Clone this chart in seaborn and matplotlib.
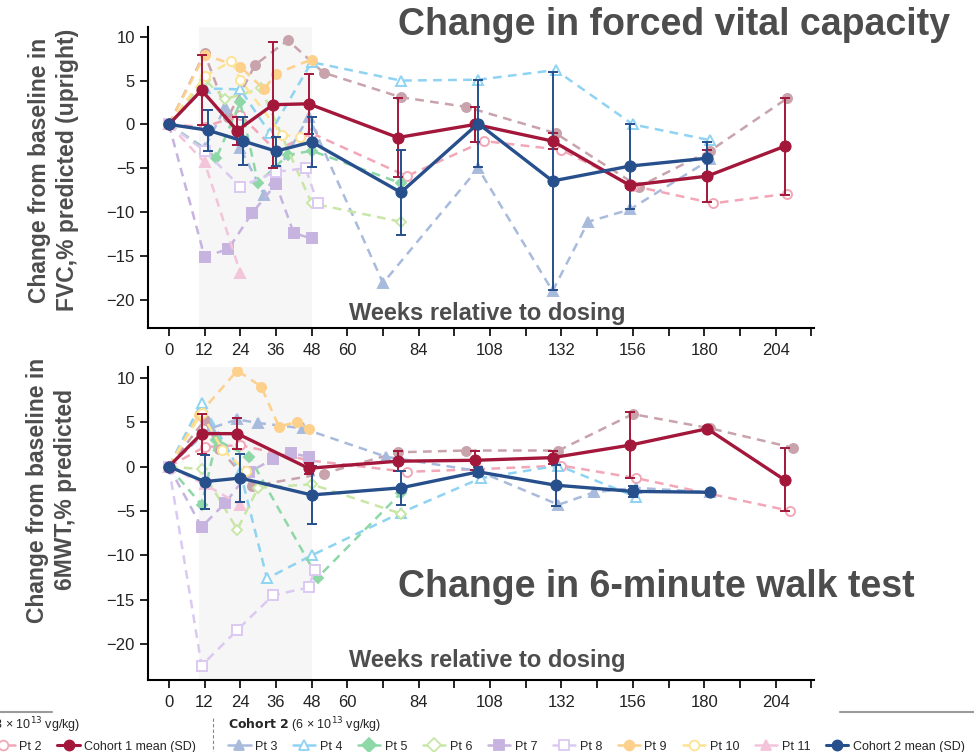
import matplotlib
matplotlib.use("Agg")
import matplotlib.pyplot as plt
from matplotlib.lines import Line2D
import seaborn as sns
import pandas as pd

# ---------------- data ----------------
WEEK_TICKS = list(range(0, 217, 12))
WEEK_LABELS = [0, 12, 24, 36, 48, 60, 84, 108, 132, 156, 180, 204]
Y_TICKS = [10, 5, 0, -5, -10, -15, -20]

# FVC, % predicted (upright) - individual patients
fvc_pt1_wk = [0, 12, 20, 29, 40, 52, 78, 100, 130, 158, 182, 208]
fvc_pt1 = [0, 8.1, 0.9, 6.8, 9.6, 5.9, 3.1, 2.0, -1.0, -7.1, -3.0, 3.0]
fvc_pt2_wk = [0, 12, 24, 36, 48, 80, 106, 132, 156, 183, 208]
fvc_pt2 = [0, -0.3, 1.1, -3.0, -1.0, -5.9, -1.9, -2.9, -7.0, -9.0, -7.9]
fvc_pt3_wk = [0, 12, 19, 24, 32, 47, 72, 104, 129, 141, 155, 182]
fvc_pt3 = [0, -2.7, 2.0, -2.7, -8.0, 0.9, -18.1, -5.0, -19.0, -11.1, -9.7, -4.0]
fvc_pt4_wk = [0, 12, 24, 34, 48, 78, 104, 130, 156, 182]
fvc_pt4 = [0, 4.1, 4.0, -1.0, 7.1, 5.0, 5.1, 6.2, 0.0, -1.8]
fvc_pt5_wk = [0, 16, 24, 30, 40, 48, 78]
fvc_pt5 = [0, -3.8, 2.5, -6.7, -3.5, -3.0, -6.7]
fvc_pt6_wk = [0, 12, 19, 31, 48, 78]
fvc_pt6 = [0, 5.1, 2.9, 4.1, -9.0, -11.1]
fvc_pt7_wk = [0, 12, 20, 28, 36, 42, 48]
fvc_pt7 = [0, -15.1, -14.2, -10.1, -6.8, -12.4, -13.0]
fvc_pt8_wk = [0, 12, 24, 36, 46, 50]
fvc_pt8 = [0, -3.0, -7.1, -5.4, -5.0, -9.0]
fvc_pt9_wk = [0, 12, 24, 32, 36, 48]
fvc_pt9 = [0, 7.9, 6.6, 4.0, 5.8, 7.4]
fvc_pt10_wk = [0, 12, 21, 24, 38, 44]
fvc_pt10 = [0, 5.5, 7.2, 5.1, -1.2, -1.4]
fvc_pt11_wk = [0, 12, 24]
fvc_pt11 = [0, -4.3, -16.9]

# FVC cohort means (SD)
fvc_c1_wk = [0, 11, 23, 35, 47, 77, 103, 129, 155, 181, 207]
fvc_c1 = [0, 3.9, -0.7, 2.25, 2.35, -1.5, 0.0, -1.9, -6.95, -5.9, -2.5]
fvc_c1_sd = [None, 4.0, 1.6, 7.2, 3.4, 4.5, 1.95, 0.9, 0.3, 3.0, 5.5]
fvc_c2_wk = [0, 13, 25, 36, 48, 78, 104, 129, 155, 181]
fvc_c2 = [0, -0.65, -1.9, -3.05, -2.0, -7.75, 0.1, -6.45, -4.75, -3.85]
fvc_c2_sd = [None, 2.35, 2.7, 1.65, 2.9, 4.85, 5.0, 12.45, 4.85, 1.85]

# 6MWT, % predicted - individual patients
mwt_pt1_wk = [0, 12, 17, 28, 52, 77, 100, 131, 156, 182, 210]
mwt_pt1 = [0, 5.2, 2.0, -2.2, -0.8, 1.6, 1.8, 1.8, 5.9, 4.3, 2.1]
mwt_pt2_wk = [0, 12, 24, 47, 80, 104, 132, 157, 209]
mwt_pt2 = [0, 2.2, 2.4, 0.7, -0.6, -0.3, 0.1, -1.3, -5.0]
mwt_pt3_wk = [0, 14, 23, 30, 45, 73, 104, 131, 143, 157, 182]
mwt_pt3 = [0, 4.3, 5.3, 4.9, 4.3, 1.1, -0.5, -4.3, -2.9, -2.4, -2.9]
mwt_pt4_wk = [0, 11, 24, 33, 48, 78, 105, 131, 157]
mwt_pt4 = [0, 7.2, -0.6, -12.6, -10.0, -5.2, -1.3, 0.1, -3.4]
mwt_pt5_wk = [0, 11, 16, 27, 50, 78]
mwt_pt5 = [0, -4.3, 3.0, 1.1, -12.5, -3.0]
mwt_pt6_wk = [0, 11, 23, 30, 48, 78]
mwt_pt6 = [0, -0.3, -7.1, -2.4, -2.0, -5.3]
mwt_pt7_wk = [0, 11, 19, 27, 35, 41, 47]
mwt_pt7 = [0, -6.8, -4.1, -0.6, 0.8, 1.5, 1.1]
mwt_pt8_wk = [0, 11, 23, 35, 47, 49]
mwt_pt8 = [0, -22.4, -18.4, -14.5, -13.6, -11.7]
mwt_pt9_wk = [0, 10, 23, 31, 37, 43, 47]
mwt_pt9 = [0, 5.8, 10.8, 9.0, 4.5, 5.0, 4.2]
mwt_pt10_wk = [0, 11, 18, 26]
mwt_pt10 = [0, 6.0, 1.9, -0.5]
mwt_pt11_wk = [0, 12, 24]
mwt_pt11 = [0, -2.0, -4.3]

# 6MWT cohort means (SD)
mwt_c1_wk = [0, 11, 23, 47, 77, 103, 129, 155, 181, 207]
mwt_c1 = [0, 3.7, 3.7, -0.2, 0.6, 0.7, 1.0, 2.4, 4.25, -1.5]
mwt_c1_sd = [None, 2.25, 1.75, 0.65, 1.1, 1.1, 0.75, 3.7, None, 3.55]
mwt_c2_wk = [0, 12, 24, 48, 78, 104, 130, 156, 182]
mwt_c2 = [0, -1.7, -1.3, -3.2, -2.4, -0.6, -2.1, -2.8, -2.9]
mwt_c2_sd = [None, 3.05, 2.7, 3.3, 1.9, 0.5, 2.3, 0.6, None]

# ---------------- styles ----------------
PATIENTS = ["Pt 1", "Pt 2", "Pt 3", "Pt 4", "Pt 5", "Pt 6",
            "Pt 7", "Pt 8", "Pt 9", "Pt 10", "Pt 11"]
PT_COLORS = ["#c9a3ac", "#f2a7b8", "#a9bbdd", "#8fd3f2", "#8ed8a7", "#c8e6a6",
             "#c7b3e0", "#dcc9f2", "#fdd08b", "#fde394", "#f3c4da"]
PT_MARKERS = ["o", "o", "^", "^", "D", "D", "s", "s", "o", "o", "^"]
PT_OPEN = [False, True, False, True, False, True, False, True, False, True, False]
C1_COLOR = "#a3173a"
C2_COLOR = "#264f8c"
TEXT_GRAY = "#4d4d4d"

sns.set_theme(style="white")
plt.rcParams["font.family"] = ["Liberation Sans Narrow", "Liberation Sans", "DejaVu Sans"]


def draw_patient(ax, wk, val, i):
    df = pd.DataFrame({"week": wk, "value": val})
    col = PT_COLORS[i]
    ms = 5.5 if PT_MARKERS[i] == "D" else 6.5
    sns.lineplot(data=df, x="week", y="value", ax=ax, sort=False, estimator=None,
                 color=col, linewidth=1.8, linestyle=(0, (3.5, 2.5)),
                 marker=PT_MARKERS[i], markersize=ms, markeredgecolor=col,
                 markerfacecolor="white" if PT_OPEN[i] else col,
                 markeredgewidth=1.4, zorder=2, legend=False)


def draw_mean(ax, wk, val, sd, color):
    df = pd.DataFrame({"week": wk, "value": val,
                       "sd": [float("nan") if s is None else s for s in sd]})
    ax.errorbar(df["week"], df["value"], yerr=df["sd"], fmt="none", ecolor=color,
                elinewidth=1.4, capsize=3.5, capthick=1.4, zorder=4)
    sns.lineplot(data=df, x="week", y="value", ax=ax, sort=False, estimator=None,
                 color=color, linewidth=2.4, marker="o", markersize=8,
                 markeredgecolor=color, markerfacecolor=color, zorder=5, legend=False)


def style_axis(ax, ylim):
    ax.axvspan(10, 48, color="#f6f6f6", zorder=0, lw=0)
    ax.set_xlim(-7, 217)
    ax.set_ylim(*ylim)
    ax.set_xticks(WEEK_TICKS)
    ax.set_xticklabels([str(w) if w in WEEK_LABELS else "" for w in WEEK_TICKS])
    ax.set_yticks(Y_TICKS)
    ax.set_yticklabels([str(v).replace("-", "\u2212") for v in Y_TICKS])
    sns.despine(ax=ax)
    for sp in ["left", "bottom"]:
        ax.spines[sp].set_color("black")
        ax.spines[sp].set_linewidth(1.5)
    ax.tick_params(axis="both", which="both", direction="out", length=6, width=1.2,
                   color="black", labelsize=12, labelcolor="#222222", left=True, bottom=True)
    ax.tick_params(axis="x", pad=5)
    ax.set_xlabel("")
    ax.set_ylabel("")
    ax.grid(False)


fig = plt.figure(figsize=(9.74, 7.52), dpi=100)
ax1 = fig.add_axes([0.152, 0.564, 0.684, 0.400])
ax2 = fig.add_axes([0.152, 0.096, 0.684, 0.416])

fvc_pts = [(fvc_pt1_wk, fvc_pt1), (fvc_pt2_wk, fvc_pt2), (fvc_pt3_wk, fvc_pt3),
           (fvc_pt4_wk, fvc_pt4), (fvc_pt5_wk, fvc_pt5), (fvc_pt6_wk, fvc_pt6),
           (fvc_pt7_wk, fvc_pt7), (fvc_pt8_wk, fvc_pt8), (fvc_pt9_wk, fvc_pt9),
           (fvc_pt10_wk, fvc_pt10), (fvc_pt11_wk, fvc_pt11)]
mwt_pts = [(mwt_pt1_wk, mwt_pt1), (mwt_pt2_wk, mwt_pt2), (mwt_pt3_wk, mwt_pt3),
           (mwt_pt4_wk, mwt_pt4), (mwt_pt5_wk, mwt_pt5), (mwt_pt6_wk, mwt_pt6),
           (mwt_pt7_wk, mwt_pt7), (mwt_pt8_wk, mwt_pt8), (mwt_pt9_wk, mwt_pt9),
           (mwt_pt10_wk, mwt_pt10), (mwt_pt11_wk, mwt_pt11)]

for i, (wk, val) in enumerate(fvc_pts):
    draw_patient(ax1, wk, val, i)
draw_mean(ax1, fvc_c1_wk, fvc_c1, fvc_c1_sd, C1_COLOR)
draw_mean(ax1, fvc_c2_wk, fvc_c2, fvc_c2_sd, C2_COLOR)
style_axis(ax1, (-23.2, 11.1))

for i, (wk, val) in enumerate(mwt_pts):
    draw_patient(ax2, wk, val, i)
draw_mean(ax2, mwt_c1_wk, mwt_c1, mwt_c1_sd, C1_COLOR)
draw_mean(ax2, mwt_c2_wk, mwt_c2, mwt_c2_sd, C2_COLOR)
style_axis(ax2, (-24.0, 11.2))

# axis labels / titles
lab = dict(fontsize=16.5, fontweight="bold", color=TEXT_GRAY, family=["Liberation Sans", "DejaVu Sans"])
fig.text(0.055, 1 - 170 / 752, "Change from baseline in\nFVC,% predicted (upright)",
         rotation=90, ha="center", va="center", linespacing=1.25, **lab)
fig.text(0.053, 1 - 490 / 752, "Change from baseline in\n6MWT,% predicted",
         rotation=90, ha="center", va="center", linespacing=1.25, **lab)
wk_lab = dict(lab, fontsize=17)
fig.text(487 / 974, 1 - 313 / 752, "Weeks relative to dosing", ha="center", va="center", **wk_lab)
fig.text(487 / 974, 1 - 660 / 752, "Weeks relative to dosing", ha="center", va="center", **wk_lab)

ttl = dict(fontsize=27, fontweight="bold", color=TEXT_GRAY, family=["Liberation Sans", "DejaVu Sans"])
fig.text(674 / 974, 1 - 25 / 752, "Change in forced vital capacity", ha="center", va="center", **ttl)
fig.text(656 / 974, 1 - 587 / 752, "Change in 6-minute walk test", ha="center", va="center", **ttl)


# legend
def handle(i):
    return Line2D([], [], color=PT_COLORS[i], lw=1.8, marker=PT_MARKERS[i], markersize=7,
                  markeredgecolor=PT_COLORS[i],
                  markerfacecolor="white" if PT_OPEN[i] else PT_COLORS[i], markeredgewidth=1.3)


def mean_handle(color):
    return Line2D([], [], color=color, lw=2.2, marker="o", markersize=7.5,
                  markeredgecolor=color, markerfacecolor=color)


leg_kw = dict(frameon=False, fontsize=9, title_fontsize=9, handlelength=1.8,
              handletextpad=0.35, columnspacing=1.25, alignment="left", borderaxespad=0,
              borderpad=0)
leg1 = fig.legend([handle(0), handle(1), mean_handle(C1_COLOR)],
                  ["Pt 1", "Pt 2", "Cohort 1 mean (SD)"], ncol=3, loc="upper right",
                  bbox_to_anchor=(196 / 974, 1 - 715 / 752),
                  title=r"$\bf{Cohort\ 1}$ (3 × 10$^{13}$ vg/kg)", **leg_kw)
leg2 = fig.legend([handle(i) for i in range(2, 11)] + [mean_handle(C2_COLOR)],
                  PATIENTS[2:] + ["Cohort 2 mean (SD)"], ncol=10, loc="upper left",
                  bbox_to_anchor=(228 / 974, 1 - 715 / 752),
                  title=r"$\bf{Cohort\ 2}$ (6 × 10$^{13}$ vg/kg)", **leg_kw)

fig.add_artist(Line2D([0, 52 / 974], [1 - 712 / 752] * 2, color="#9a9a9a", lw=1.5,
                      transform=fig.transFigure))
fig.add_artist(Line2D([840 / 974, 1], [1 - 712 / 752] * 2, color="#9a9a9a", lw=1.5,
                      transform=fig.transFigure))
fig.add_artist(Line2D([213 / 974] * 2, [1 - 718 / 752, 0], color="#888888", lw=0.8,
                      ls=(0, (3, 2)), transform=fig.transFigure))

fig.savefig("out.png", dpi=100)
